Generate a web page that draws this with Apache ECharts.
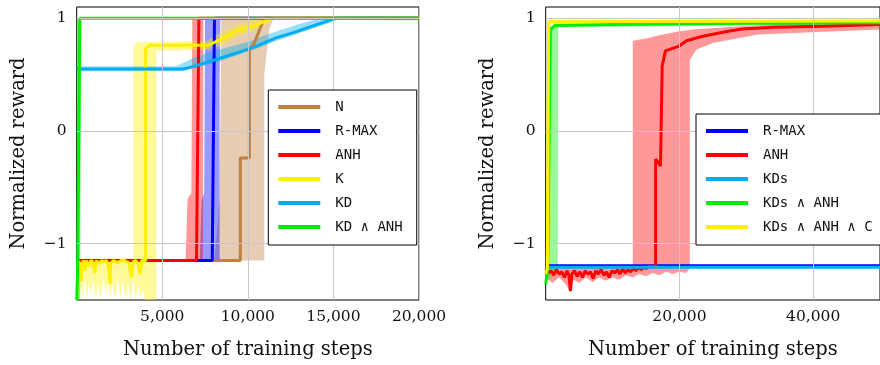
<!DOCTYPE html>
<html><head><meta charset="utf-8">
<script src="https://cdn.jsdelivr.net/npm/echarts@6/dist/echarts.min.js"></script>
<style>html,body{margin:0;padding:0;background:#fff}#c{width:880px;height:365px}</style>
</head><body><div id="c"></div>
<script>
// ---------- tick values ----------
const yTicks = [-1, 0, 1];
const leftXTicks = [5000, 10000, 15000, 20000];
const rightXTicks = [20000, 40000];

// ---------- LEFT PLOT series ----------
const N_line = [[0,-1.15],[9560,-1.15],[9560,-0.24],[10090,-0.24],[10090,0.72],[10380,0.78],[10770,0.93],[10960,1.0],[20000,1.0]];
const N_up = [[8050,-1.15],[8350,-0.6],[8450,1.0],[11500,1.0]];
const N_lo = [[8050,-1.15],[10960,-1.15],[10960,0.5],[11250,0.9],[11500,1.0]];

const RMAX_line = [[0,-1.15],[7920,-1.15],[8050,1.0],[20000,1.0]];
const RMAX_up = [[7180,-1.15],[7300,-0.62],[7450,-0.55],[7500,1.0],[8400,1.0]];
const RMAX_lo = [[7180,-1.15],[8350,-1.15],[8350,0.45],[8400,1.0]];

const ANH_line = [[0,-1.15],[7000,-1.15],[7140,1.0],[20000,1.0]];
const ANH_up = [[6360,-1.15],[6480,-0.6],[6700,-0.55],[6750,1.0],[7400,1.0]];
const ANH_lo = [[6360,-1.15],[7380,-1.15],[7400,1.0]];

const K_line = [[0,-1.2],[120,-1.15],[250,-1.33],[330,-1.17],[420,-1.15],[480,-1.24],[560,-1.15],[700,-1.2],[780,-1.16],[900,-1.15],[1060,-1.26],[1150,-1.15],[1300,-1.18],[1450,-1.15],[1600,-1.16],[1750,-1.15],[1880,-1.22],[1940,-1.36],[2000,-1.17],[2150,-1.15],[2400,-1.17],[2600,-1.15],[2800,-1.15],[3050,-1.17],[3200,-1.3],[3300,-1.16],[3450,-1.15],[3600,-1.18],[3700,-1.27],[3800,-1.15],[4030,-1.15],[4030,0.73],[4270,0.76],[7660,0.76],[8530,0.82],[9500,0.9],[10480,0.94],[11350,1.0],[20000,1.0]];
const K_up = [[0,-1.13],[3300,-1.13],[3300,0.74],[3500,0.79],[7600,0.8],[8500,0.88],[9500,0.95],[10700,1.0],[11500,1.0]];
const K_lo = [[0,-1.5],[150,-1.5],[250,-1.35],[350,-1.5],[500,-1.3],[600,-1.5],[700,-1.35],[850,-1.45],[950,-1.3],[1100,-1.5],[1250,-1.35],[1400,-1.5],[1550,-1.3],[1700,-1.45],[1850,-1.3],[1950,-1.5],[2100,-1.35],[2250,-1.5],[2400,-1.3],[2550,-1.48],[2700,-1.32],[2850,-1.5],[3000,-1.35],[3150,-1.5],[3300,-1.3],[3450,-1.5],[3600,-1.35],[3700,-1.5],[3850,-1.4],[4000,-1.5],[4650,-1.5],[4650,0.71],[7700,0.72],[8600,0.77],[9600,0.85],[10500,0.9],[11400,0.97],[11500,1.0]];

const KD_line = [[0,0.55],[6200,0.55],[6500,0.56],[7000,0.58],[8150,0.634],[9700,0.71],[10480,0.75],[11640,0.826],[12610,0.87],[13580,0.92],[14550,0.97],[15130,1.0],[20000,1.0]];
const KD_up = [[0,0.575],[5800,0.575],[6300,0.61],[7000,0.66],[8000,0.71],[9000,0.75],[10000,0.79],[11000,0.85],[12000,0.9],[13000,0.95],[14000,0.99],[14500,1.01],[20000,1.01]];
const KD_lo = [[0,0.53],[6200,0.53],[7000,0.56],[8200,0.61],[9700,0.69],[10500,0.73],[11700,0.8],[12700,0.85],[13600,0.9],[14600,0.95],[15300,0.99],[20000,0.99]];

const KDANH_line = [[0,-1.5],[60,-1.2],[180,1.0],[20000,1.0]];
const KDANH_up = [[0,-1.5],[0,1.0],[20000,1.02]];
const KDANH_lo = [[0,-1.5],[200,-1.5],[280,1.0],[20000,0.98]];

// ---------- RIGHT PLOT series ----------
const R_RMAX_line = [[0,-1.195],[50000,-1.195]];
const R_ANH_line = [[0,-1.22],[400,-1.26],[800,-1.24],[1200,-1.28],[1600,-1.23],[2000,-1.27],[2400,-1.25],[2800,-1.3],[3200,-1.24],[3500,-1.29],[3700,-1.42],[3900,-1.27],[4300,-1.24],[4700,-1.29],[5100,-1.25],[5500,-1.3],[5900,-1.24],[6300,-1.27],[6700,-1.25],[7100,-1.31],[7500,-1.24],[7900,-1.27],[8300,-1.23],[8700,-1.28],[9100,-1.25],[9500,-1.3],[9900,-1.24],[10300,-1.26],[10700,-1.23],[11100,-1.27],[11500,-1.22],[11900,-1.26],[12300,-1.23],[12700,-1.25],[13100,-1.22],[13500,-1.24],[13900,-1.21],[14300,-1.23],[14700,-1.21],[15100,-1.22],[15500,-1.2],[16000,-1.21],[16440,-1.19],[16440,-0.25],[16700,-0.27],[17170,-0.31],[17420,0.575],[17900,0.71],[19850,0.75],[21070,0.80],[23500,0.84],[26900,0.88],[29350,0.905],[34200,0.92],[41500,0.93],[50000,0.945]];
const R_ANH_up = [[0,-1.2],[13030,-1.2],[13030,0.8],[15000,0.82],[17000,0.85],[19600,0.88],[22000,0.9],[26900,0.92],[35000,0.95],[50000,0.97]];
const R_ANH_lo = [[0,-1.3],[1000,-1.35],[2000,-1.3],[3000,-1.36],[3700,-1.44],[4200,-1.32],[5000,-1.35],[6000,-1.3],[7000,-1.34],[8000,-1.3],[9000,-1.33],[10000,-1.3],[11000,-1.32],[12000,-1.28],[13000,-1.3],[14000,-1.27],[15000,-1.29],[16000,-1.26],[17000,-1.28],[18000,-1.25],[19000,-1.27],[20000,-1.25],[21000,-1.26],[21550,-1.22],[21550,0.63],[22500,0.72],[24960,0.78],[31770,0.855],[41500,0.88],[50000,0.9]];
const R_KDs_line = [[0,-1.21],[50000,-1.21]];
const R_KDsANH_line = [[0,-1.36],[300,-1.2],[700,0.9],[1360,0.935],[10000,0.945],[30000,0.955],[50000,0.96]];
const R_KDsANH_up = [[0,-1.25],[450,0.93],[50000,0.97]];
const R_KDsANH_lo = [[0,-1.36],[1800,-1.2],[1850,0.92],[50000,0.95]];
const R_KDsANHC_line = [[0,-1.27],[250,-1.22],[450,0.97],[50000,0.975]];
const R_KDsANHC_up = [[0,-1.2],[250,0.985],[50000,0.99]];
const R_KDsANHC_lo = [[0,-1.28],[700,-1.22],[800,0.95],[50000,0.96]];

// ---------- styling ----------
const C = {N:'#bf8040', RMAX:'#0000ff', ANH:'#ff0000', K:'#fff000', KD:'#00aeef', KDANH:'#00ee00'};
const serif = 'DejaVu Serif';
const mono = 'DejaVu Sans Mono';

function band(gi, up, lo, color, op) {
  return {
    type: 'custom', xAxisIndex: gi, yAxisIndex: gi, silent: true, clip: true, z: 2,
    data: up.concat(lo), encode: {x: 0, y: 1},
    renderItem: function (params, api) {
      if (params.dataIndexInside !== 0) return null;
      const pts = up.map(p => api.coord(p)).concat(lo.slice().reverse().map(p => api.coord(p)));
      return {type: 'polygon', shape: {points: pts}, style: {fill: color, opacity: op}};
    }
  };
}
function line(gi, name, data, color) {
  return {type: 'line', name: name, xAxisIndex: gi, yAxisIndex: gi, data: data,
    showSymbol: false, symbol: 'none', z: 3, clip: true,
    lineStyle: {color: color, width: 3}, itemStyle: {color: color}};
}
function gridLines(gi, xt) {
  return {type: 'line', xAxisIndex: gi, yAxisIndex: gi, data: [], z: 1, silent: true,
    markLine: {silent: true, symbol: 'none', animation: false, label: {show: false},
      lineStyle: {color: '#c8c8c8', width: 1, type: 'solid'},
      data: yTicks.map(v => ({yAxis: v})).concat(xt.map(v => ({xAxis: v})))}};
}
function xAxis(gi, max, ticks) {
  return {type: 'value', gridIndex: gi, min: 0, max: max,
    axisLine: {show: false}, splitLine: {show: false},
    axisTick: {show: true, inside: true, length: 4, customValues: ticks, lineStyle: {color: '#444'}},
    axisLabel: {customValues: ticks, margin: 9, fontFamily: serif, fontSize: 15.5, color: '#111',
      formatter: v => v.toLocaleString('en-US')},
    name: 'Number of training steps', nameLocation: 'middle', nameGap: 40,
    nameTextStyle: {fontFamily: serif, fontSize: 19.5, color: '#111'}};
}
function yAxis(gi) {
  return {type: 'value', gridIndex: gi, min: -1.5, max: 1.1,
    axisLine: {show: false}, splitLine: {show: false},
    axisTick: {show: true, inside: true, length: 4, customValues: yTicks, lineStyle: {color: '#444'}},
    axisLabel: {customValues: yTicks, margin: 10, fontFamily: serif, fontSize: 15.5, color: '#111',
      formatter: v => (v < 0 ? '\u2212' + Math.abs(v) : String(v))},
    name: 'Normalized reward', nameLocation: 'middle', nameGap: 48,
    nameTextStyle: {fontFamily: serif, fontSize: 19.5, color: '#111'}};
}
const legendCommon = {orient: 'vertical', icon: 'rect', itemWidth: 42, itemHeight: 4, itemGap: 10,
  backgroundColor: '#fff', borderColor: '#000', borderWidth: 1, borderRadius: 0,
  textStyle: {fontFamily: mono, fontSize: 14, color: '#111', padding: [0, 0, 0, 10]}, z: 10};

const chart = echarts.init(document.getElementById('c'), null, {renderer: 'canvas'});
chart.setOption({
  animation: false,
  grid: [
    {left: 76.7, top: 7, width: 342.3, height: 296, show: true, borderColor: '#000', borderWidth: 1, backgroundColor: 'transparent'},
    {left: 545.7, top: 7, width: 342.3, height: 296, show: true, borderColor: '#000', borderWidth: 1, backgroundColor: 'transparent'}
  ],
  xAxis: [xAxis(0, 20000, leftXTicks), xAxis(1, 50000, rightXTicks)],
  yAxis: [yAxis(0), yAxis(1)],
  legend: [
    Object.assign({}, legendCommon, {left: 268.3, top: 90, padding: [10, 14, 11, 10],
      data: ['N', 'R-MAX', 'ANH', 'K', 'KD', 'KD \u2227 ANH']}),
    Object.assign({}, legendCommon, {left: 696, top: 114, padding: [10, 14, 11, 10],
      data: ['R-MAX', 'ANH', 'KDs', 'KDs \u2227 ANH', 'KDs \u2227 ANH \u2227 C']})
  ],
  series: [
    gridLines(0, leftXTicks), gridLines(1, rightXTicks),
    band(0, N_up, N_lo, C.N, 0.4), line(0, 'N', N_line, C.N),
    band(0, RMAX_up, RMAX_lo, C.RMAX, 0.4), line(0, 'R-MAX', RMAX_line, C.RMAX),
    band(0, ANH_up, ANH_lo, C.ANH, 0.4), line(0, 'ANH', ANH_line, C.ANH),
    band(0, K_up, K_lo, C.K, 0.4), line(0, 'K', K_line, C.K),
    band(0, KD_up, KD_lo, C.KD, 0.4), line(0, 'KD', KD_line, C.KD),
    band(0, KDANH_up, KDANH_lo, C.KDANH, 0.4), line(0, 'KD \u2227 ANH', KDANH_line, C.KDANH),

    line(1, 'R-MAX', R_RMAX_line, C.RMAX),
    band(1, R_ANH_up, R_ANH_lo, C.ANH, 0.4), line(1, 'ANH', R_ANH_line, C.ANH),
    line(1, 'KDs', R_KDs_line, C.KD),
    band(1, R_KDsANH_up, R_KDsANH_lo, C.KDANH, 0.4), line(1, 'KDs \u2227 ANH', R_KDsANH_line, C.KDANH),
    band(1, R_KDsANHC_up, R_KDsANHC_lo, C.K, 0.4), line(1, 'KDs \u2227 ANH \u2227 C', R_KDsANHC_line, C.K)
  ]
});
</script></body></html>
